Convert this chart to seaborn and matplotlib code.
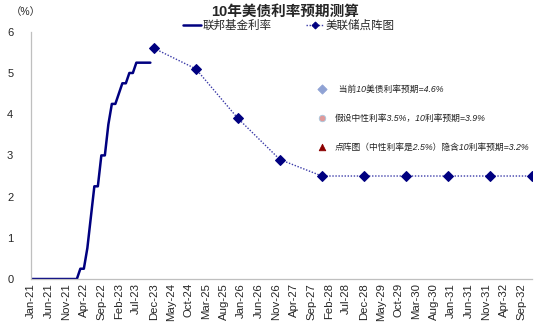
import numpy as np
import pandas as pd
import matplotlib
matplotlib.use("Agg")
import matplotlib.pyplot as plt
import seaborn as sns

# ---------------- data ----------------
start_month = "2021-01-01"
end_month = "2032-12-01"
fed_funds = [0, 0, 0, 0, 0, 0, 0, 0, 0, 0, 0, 0, 0, 0,
             0.25, 0.25, 0.75, 1.5, 2.25, 2.25, 3.0, 3.0, 3.75, 4.25, 4.25,
             4.5, 4.75, 4.75, 5.0, 5.0, 5.25, 5.25, 5.25, 5.25, 5.25]
dot_months = ["Dec-23", "Dec-24", "Dec-25", "Dec-26", "Dec-27",
              "Dec-28", "Dec-29", "Dec-30", "Dec-31", "Dec-32"]
dot_values = [5.6, 5.1, 3.9, 2.9, 2.5, 2.5, 2.5, 2.5, 2.5, 2.5]
note_month = "Dec-27"
note_values = [4.6, 3.9, 3.2]
note_labels = ["  当前10美债利率预期=4.6%",
               "假设中性利率3.5%，10利率预期=3.9%",
               "点阵图（中性利率是2.5%）隐含10利率预期=3.2%"]
title = "10年美债利率预期测算"
unit = "（%）"
series_names = ["联邦基金利率", "美联储点阵图"]
y_ticks = [0, 1, 2, 3, 4, 5, 6]
tick_step = 5

# ---------------- prep ----------------
months = pd.date_range(start_month, end_month, freq="MS")
month_labels = [d.strftime("%b-%y") for d in months]
pos = {m: i for i, m in enumerate(month_labels)}
fed_df = pd.DataFrame({"x": np.arange(len(fed_funds)), "y": fed_funds})
dot_df = pd.DataFrame({"x": [pos[m] for m in dot_months], "y": dot_values})

sns.set_theme(style="white")
plt.rcParams["font.family"] = ["Liberation Sans", "Noto Sans CJK SC"]

fig = plt.figure(figsize=(5.5, 3.31), dpi=100)
ax = fig.add_axes([0.057, 0.157, 0.910, 0.747])

navy = "#000080"
sns.lineplot(data=fed_df, x="x", y="y", ax=ax, color=navy, linewidth=1.8,
             label=series_names[0])
sns.lineplot(data=dot_df, x="x", y="y", ax=ax, color="#3a3aa8", linewidth=1.0,
             linestyle=(0, (1, 1.2)), marker="D", markersize=5,
             markerfacecolor=navy, markeredgecolor=navy, label=series_names[1])

nx = pos[note_month]
markers = ["D", "o", "^"]
fcols = ["#8FA2D4", "#E09A9A", "#8B0000"]
ecols = ["#8FA2D4", "#A8C8E0", "#8B0000"]
for v, mk, fc, ec, lab in zip(note_values, markers, fcols, ecols, note_labels):
    sns.scatterplot(x=[nx], y=[v], ax=ax, marker=mk, s=22, color=fc,
                    edgecolor=ec, linewidth=0.6, zorder=5, legend=False)
    ax.annotate(lab, (nx, v), xytext=(9, 0), textcoords="offset points",
                va="center", ha="left", fontsize=6.3, fontstyle="italic",
                color="#222222")

ax.set_xlim(0, len(month_labels) - 1)
ax.set_ylim(0, 6)
ax.set_yticks(y_ticks)
ax.set_yticklabels([str(t) for t in y_ticks], fontsize=8)
ticks = list(range(0, len(month_labels), tick_step))
ax.set_xticks(ticks)
ax.set_xticklabels([month_labels[i] for i in ticks], rotation=90, fontsize=8.2)
ax.tick_params(axis="x", direction="in", length=3, color="#BFBFBF", pad=3)
ax.tick_params(axis="y", length=0, pad=13)
ax.set_xlabel("")
ax.set_ylabel("")
for s in ["top", "right"]:
    ax.spines[s].set_visible(False)
for s in ["left", "bottom"]:
    ax.spines[s].set_color("#BFBFBF")
    ax.spines[s].set_linewidth(0.9)

ax.get_legend().remove()
h, l = ax.get_legend_handles_labels()
fig.legend(h, l, loc="center", bbox_to_anchor=(0.525, 0.921), ncol=2,
           frameon=False, fontsize=8.3, handlelength=1.6, handletextpad=0.1,
           columnspacing=3.0, borderaxespad=0, markerscale=0.7)

fig.text(0.518, 0.965, title, ha="center", va="center", fontsize=10.5,
         fontweight="bold")
fig.text(0.047, 0.963, unit, ha="center", va="center", fontsize=7.5)

fig.savefig("out.png", dpi=100)
